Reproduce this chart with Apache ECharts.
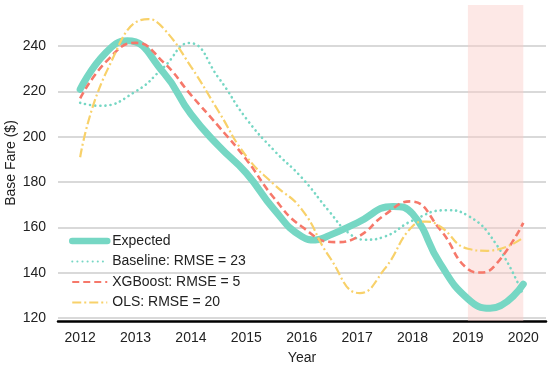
<!DOCTYPE html>
<html>
<head>
<meta charset="utf-8">
<script src="https://cdn.jsdelivr.net/npm/echarts@6/dist/echarts.min.js"></script>
<style>html,body{margin:0;padding:0;background:#fff}#c{width:550px;height:368px}</style>
</head>
<body>
<div id="c"></div>
<script>
// Values (years, including turning points)
const expectedX = [2012, 2012.45, 2012.85, 2013.5, 2014, 2014.5, 2015, 2015.5, 2016, 2016.25, 2016.5, 2017, 2017.65, 2018, 2018.5, 2019, 2019.4, 2020];
const expectedY = [221, 236.8, 242.4, 228.5, 210, 196, 184, 168, 156, 154.5, 156.5, 162, 169.3, 166, 144, 128.5, 124.3, 135];
const baselineX = [2012, 2012.35, 2013, 2013.5, 2013.97, 2014.5, 2015, 2015.5, 2016, 2016.5, 2016.85, 2017.15, 2017.5, 2018, 2018.6, 2019, 2019.5, 2020];
const baselineY = [215, 213.7, 220, 230.5, 241.4, 226, 208, 194, 182, 167, 157.5, 154.6, 156, 163, 167.6, 165.2, 153, 130];
const xgboostX = [2012, 2012.5, 2013, 2013.5, 2014, 2014.5, 2015, 2015.5, 2016, 2016.6, 2017, 2017.5, 2017.96, 2018.5, 2019, 2019.22, 2019.5, 2020];
const xgboostY = [217, 234, 241.5, 233, 218.5, 204.6, 190, 173, 160.4, 153.5, 155.7, 165.6, 171.5, 159, 141.6, 140.1, 143.5, 162];
const olsX = [2012, 2012.5, 2013.23, 2013.5, 2014, 2014.5, 2015, 2015.5, 2016, 2016.5, 2017.05, 2017.5, 2018, 2018.25, 2018.5, 2019, 2019.35, 2020];
const olsY = [191, 230, 252, 248, 231, 211.2, 191.4, 179, 168, 147, 131, 141.8, 160.5, 162.6, 160.4, 150.6, 149.7, 155.5];
const xTicks = [2012, 2013, 2014, 2015, 2016, 2017, 2018, 2019, 2020];
const yTicks = [120, 140, 160, 180, 200, 220, 240];
const names = ['Expected', 'Baseline: RMSE = 23', 'XGBoost: RMSE = 5', 'OLS: RMSE = 20'];
const shadeRange = [2019, 2020];

const pair = (xs, ys) => xs.map((x, i) => [x, ys[i]]);
const font = 'Liberation Sans, Arial, sans-serif';
const teal = '#76d7c4', red = '#f6786a', yellow = '#f8d16a';
const chart = echarts.init(document.getElementById('c'), null, {renderer: 'canvas'});
chart.setOption({
  animation: false,
  textStyle: {fontFamily: font},
  grid: {left: 58, right: 4, top: 5, bottom: 47, outerBoundsMode: 'none', containLabel: false},
  legend: {
    left: 64, top: 229, orient: 'vertical', itemWidth: 35, itemHeight: 14, itemGap: 6.5,
    itemStyle: {opacity: 0},
    textStyle: {fontSize: 14, color: '#222', fontFamily: font},
    data: [
      {name: names[0], lineStyle: {width: 6.5, cap: 'round'}},
      {name: names[1]},
      {name: names[2]},
      {name: names[3]}
    ]
  },
  xAxis: {
    type: 'value', min: 2011.6, max: 2020.41,
    name: 'Year', nameLocation: 'middle', nameGap: 30, nameMoveOverlap: false,
    nameTextStyle: {fontSize: 14, color: '#222', fontFamily: font},
    axisLine: {show: true, onZero: false, lineStyle: {color: '#000', width: 2.5}},
    axisTick: {show: false, customValues: xTicks},
    axisLabel: {customValues: xTicks, fontSize: 14, color: '#222', margin: 10, fontFamily: font,
      formatter: v => String(v)},
    splitLine: {show: false}
  },
  yAxis: {
    type: 'value', min: 118.7, max: 258.2,
    name: 'Base Fare ($)', nameLocation: 'middle', nameGap: 40, nameMoveOverlap: false,
    nameTextStyle: {fontSize: 14, color: '#222', fontFamily: font},
    axisLine: {show: false},
    axisTick: {show: false, customValues: yTicks},
    axisLabel: {customValues: yTicks, fontSize: 14, color: '#222', margin: 12, fontFamily: font,
      formatter: v => String(v)},
    splitLine: {show: true, lineStyle: {color: '#cccccc', width: 1.5}}
  },
  series: [
    {
      name: names[0], type: 'line', smooth: true, symbol: 'none', data: pair(expectedX, expectedY),
      lineStyle: {color: teal, width: 7, cap: 'round'}, itemStyle: {color: teal},
      markArea: {silent: true, itemStyle: {color: 'rgba(250,205,200,0.45)'},
        data: [[{xAxis: shadeRange[0]}, {xAxis: shadeRange[1]}]]}
    },
    {
      name: names[1], type: 'line', smooth: true, symbol: 'none', data: pair(baselineX, baselineY),
      lineStyle: {color: teal, width: 2.6, type: [0.1, 5], cap: 'round'}, itemStyle: {color: teal}
    },
    {
      name: names[2], type: 'line', smooth: true, symbol: 'none', data: pair(xgboostX, xgboostY),
      lineStyle: {color: red, width: 2.6, type: [7, 4]}, itemStyle: {color: red}
    },
    {
      name: names[3], type: 'line', smooth: true, symbol: 'none', data: pair(olsX, olsY),
      lineStyle: {color: yellow, width: 2.2, type: [9, 3, 2, 3]}, itemStyle: {color: yellow}
    }
  ]
});
</script>
</body>
</html>
